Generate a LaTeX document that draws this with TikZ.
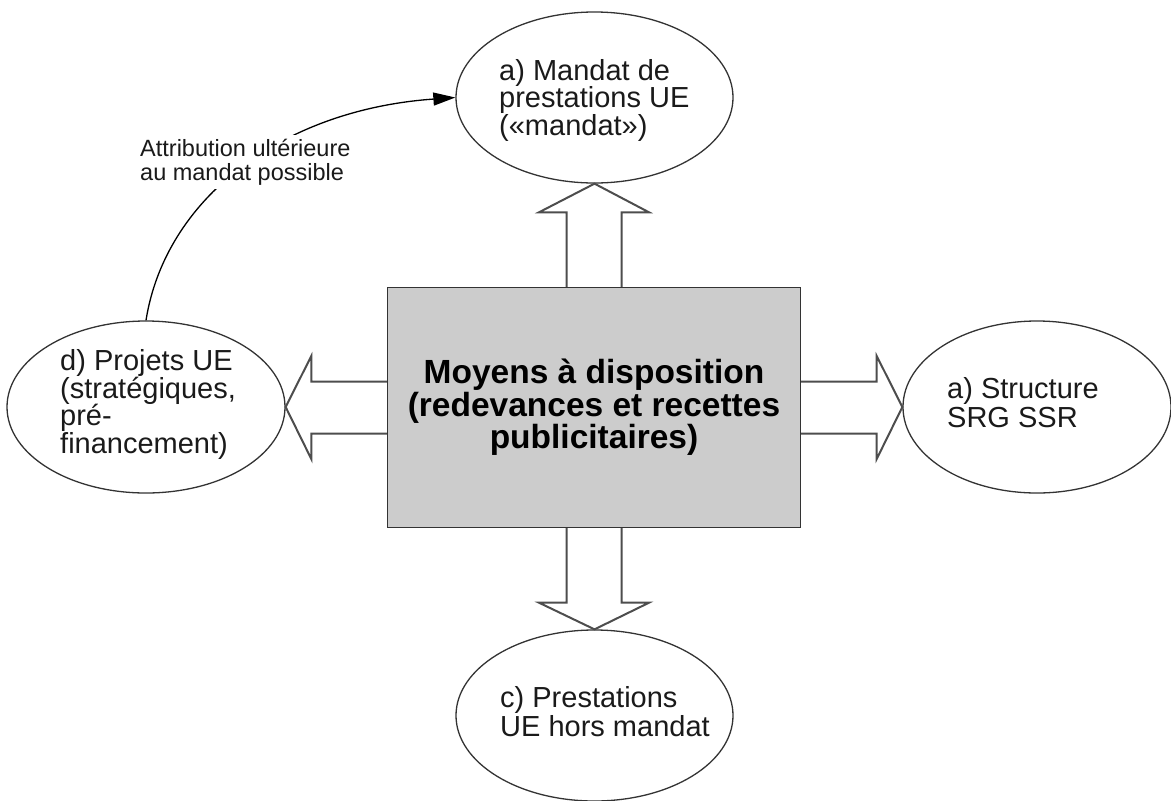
\documentclass[tikz,border=0pt]{standalone}
\usepackage{fontspec}
\setmainfont{Liberation Sans}
\usetikzlibrary{shapes.geometric,arrows.meta,calc}
\lineskiplimit=-100pt
\definecolor{linec}{HTML}{333333}
\definecolor{arrc}{HTML}{4D4D4D}
\definecolor{boxfill}{HTML}{CCCCCC}
\definecolor{txtc}{HTML}{1A1A1A}
\begin{document}
\begin{tikzpicture}[x=1pt,y=-1pt,
  ell/.style={draw=linec, line width=1.3pt, ellipse, inner sep=0pt},
  etext/.style={anchor=west, inner sep=0pt, align=left, text=txtc,
    font=\fontsize{29}{27.5}\selectfont},
  etextb/.style={anchor=west, inner sep=0pt, align=left, text=txtc,
    font=\fontsize{29}{29}\selectfont},
  mainbox/.style={draw=linec, line width=1.8pt, fill=boxfill, rectangle,
    minimum width=413pt, minimum height=240pt, inner sep=0pt, align=center,
    font=\fontsize{33.5}{32.5}\selectfont\bfseries, text=black},
  blk/.style={draw=arrc, line width=2pt, line join=miter},
  curvearrow/.style={draw=black, line width=1.3pt, -{Triangle[length=22pt,width=13pt]}},
  lbl/.style={fill=white, inner xsep=4pt, inner ysep=4pt, anchor=west, align=left,
    text=txtc, font=\fontsize{23.5}{24}\selectfont}
]
\useasboundingbox (0,0) rectangle (1171,801);

% ellipses
\node[ell, minimum width=277pt, minimum height=171pt] (top) at (594.5,97.5) {};
\node[ell, minimum width=278pt, minimum height=172pt] (left) at (146,407) {};
\node[ell, minimum width=268pt, minimum height=172pt] (right) at (1037,407) {};
\node[ell, minimum width=277pt, minimum height=171pt] (bot) at (594.5,715.5) {};

% ellipse texts
\node[etext] (topT) at (499,100) {a) Mandat de\\prestations UE\\(«mandat»)};
\node[etext] (leftT) at (60,404.5) {d) Projets UE\\(stratégiques,\\pré-\\financement)};
\node[etextb] (rightT) at (947,403) {a) Structure\\SRG SSR};
\node[etextb] (botT) at (500,712) {c) Prestations\\UE hors mandat};

% placeholder of main box (drawn after arrows)
\coordinate (boxc) at (594,407.5);
\path (boxc) node[minimum width=413pt, minimum height=240pt, inner sep=0pt] (box) {};

% block arrows
\draw[blk] ($(box.north)+(-27.5,0)$) -- ++(0,-75) -- ++(-27.5,0) -- (top.south)
  -- ($(box.north)+(55,-75)$) -- ++(-27.5,0) -- ($(box.north)+(27.5,0)$);
\draw[blk] ($(box.south)+(-27.5,0)$) -- ++(0,75) -- ++(-27.5,0) -- (bot.north)
  -- ($(box.south)+(55,75)$) -- ++(-27.5,0) -- ($(box.south)+(27.5,0)$);
\draw[blk] ($(box.west)+(0,-26)$) -- ++(-76,0) -- ++(0,-25.5) -- (left.east)
  -- ($(box.west)+(-76,51.5)$) -- ++(0,-25.5) -- ($(box.west)+(0,26)$);
\draw[blk] ($(box.east)+(0,-26)$) -- ++(76,0) -- ++(0,-25.5) -- (right.west)
  -- ($(box.east)+(76,51.5)$) -- ++(0,-25.5) -- ($(box.east)+(0,26)$);

% main box
\node[mainbox] (main) at (boxc) {Moyens à disposition\\(redevances et recettes\\publicitaires)};

% curved arrow with label
\draw[curvearrow] (left.north) .. controls (165,200) and (280,110) .. (top.west);
\node[lbl] (note) at (136,162) {Attribution ultérieure\\au mandat possible};
\end{tikzpicture}
\end{document}
